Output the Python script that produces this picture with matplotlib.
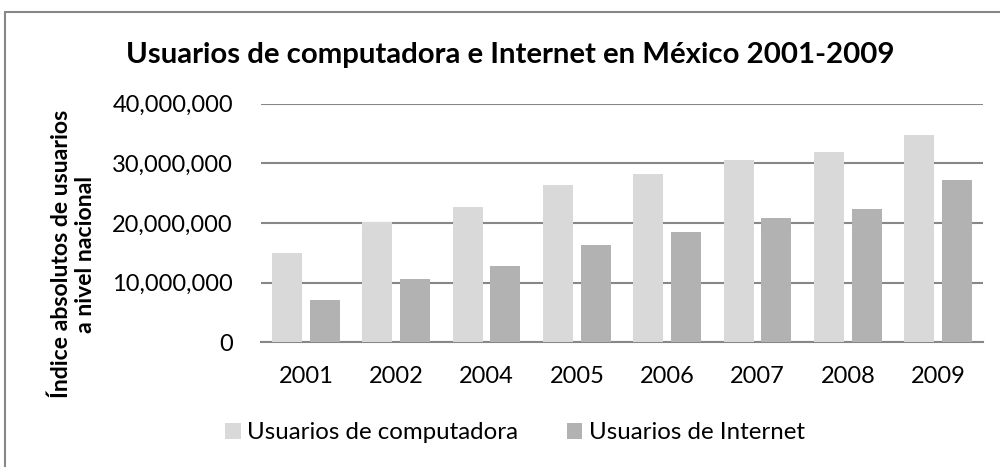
import matplotlib
matplotlib.use("Agg")
import matplotlib.pyplot as plt
import numpy as np
from matplotlib.patches import Rectangle
from matplotlib.ticker import FuncFormatter

plt.rcParams['font.family'] = ['Lato', 'DejaVu Sans']

years = ["2001", "2002", "2004", "2005", "2006", "2007", "2008", "2009"]
usuarios_computadora = [14900000, 20100000, 22650000, 26350000, 28250000, 30500000, 31950000, 34750000]
usuarios_internet = [7100000, 10650000, 12800000, 16300000, 18500000, 20850000, 22350000, 27200000]
series_names = ["Usuarios de computadora", "Usuarios de Internet"]
title = "Usuarios de computadora e Internet en México 2001-2009"
ylabel = "Índice absolutos de usuarios\na nivel nacional"

c_comp = "#D9D9D9"
c_int = "#B2B2B2"
grid_c = "#878787"

fig = plt.figure(figsize=(10, 4.67), dpi=100)
ax = fig.add_axes([0.2607, 0.267, 0.7226, 0.511])

x = np.arange(len(years))
w = 0.332
b1 = ax.bar(x - 0.208, usuarios_computadora, w, color=c_comp, zorder=3, label=series_names[0])
b2 = ax.bar(x + 0.208, usuarios_internet, w, color=c_int, zorder=3, label=series_names[1])

ax.set_xlim(-0.5, len(years) - 0.5)
ax.set_ylim(0, 40000000)
ax.set_yticks(np.arange(0, 40000001, 10000000))
ax.yaxis.set_major_formatter(FuncFormatter(lambda v, p: f"{int(v):,}"))
ax.set_xticks(x)
ax.set_xticklabels(years)
ax.yaxis.grid(True, color=grid_c, linewidth=1.5, zorder=0)
for s in ["top", "right", "left"]:
    ax.spines[s].set_visible(False)
ax.spines["bottom"].set_color(grid_c)
ax.spines["bottom"].set_linewidth(1.5)
ax.tick_params(axis="both", length=0, labelsize=17, colors="black")
ax.tick_params(axis="y", pad=20)
ax.tick_params(axis="x", pad=17)

fig.text(0.073, 0.456, ylabel, rotation=90, ha="center", va="center", multialignment="center",
         fontsize=16.6, fontweight="bold", linespacing=1.15)

fig.text(0.510, 0.866, title, ha="center", va="baseline", fontsize=21.2, fontweight="bold")

fig.legend(handles=[b1, b2], labels=series_names, loc="center", bbox_to_anchor=(0.515, 0.073),
           ncol=2, frameon=False, fontsize=17.3, handlelength=0.64, handleheight=0.64,
           handletextpad=0.28, columnspacing=2.0)

fig.patches.append(Rectangle((0.005, -0.1), 1.2, 1.074, transform=fig.transFigure,
                             fill=False, edgecolor="#878787", linewidth=1.5))

fig.savefig("out.png", dpi=100)
